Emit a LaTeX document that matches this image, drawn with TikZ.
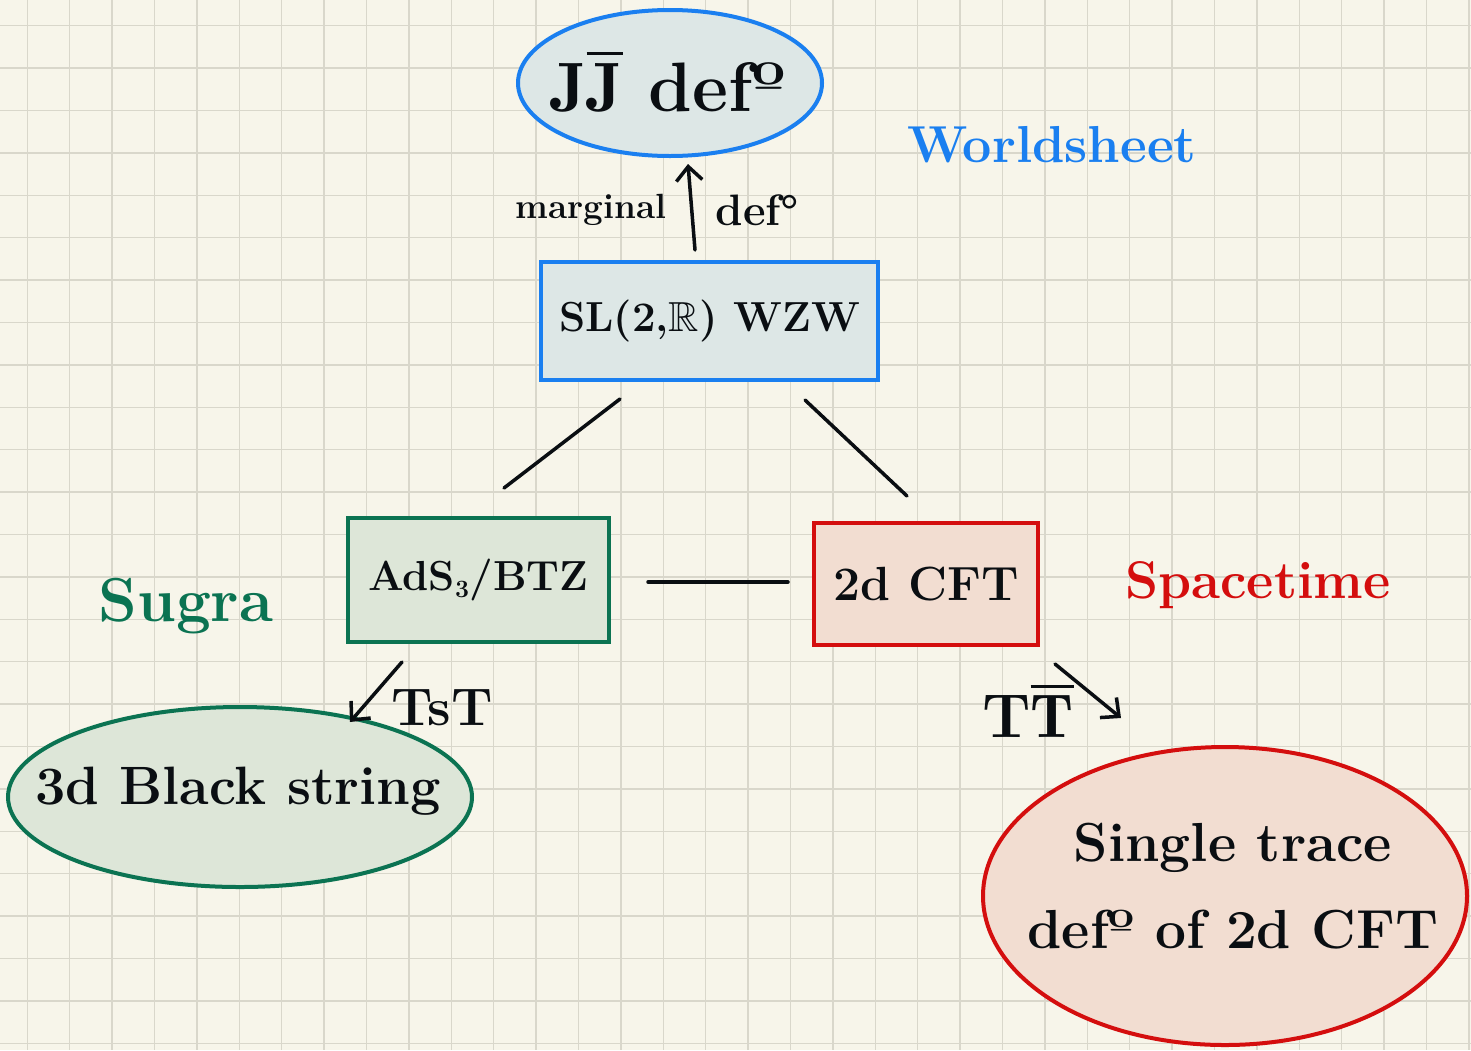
\documentclass[tikz,border=0pt]{standalone}
\usepackage{amssymb}
\usepackage{fontspec}
\usetikzlibrary{shapes.geometric,arrows.meta,calc}

\definecolor{paper}{HTML}{F7F5EA}
\definecolor{gridc}{HTML}{D9D7CB}
\definecolor{wsblue}{HTML}{1A7FF0}
\definecolor{wsfill}{HTML}{DDE7E6}
\definecolor{sgreen}{HTML}{0B7352}
\definecolor{sgfill}{HTML}{DDE6D8}
\definecolor{stred}{HTML}{D40E0E}
\definecolor{stfill}{HTML}{F2DDD1}
\definecolor{ink}{HTML}{0A0E12}

\newcommand\fsz[2]{\fontsize{#1}{#2}\selectfont\bfseries\boldmath}

\tikzset{
  box/.style={rectangle, line width=4pt, inner sep=0pt, text=ink},
  oval/.style={ellipse, line width=4pt, inner sep=0pt},
  inner/.style={text=ink, align=center},
  link/.style={line width=3.5pt, ink, line cap=round},
  deform/.style={line width=3.5pt, ink, line cap=round,
    -{Straight Barb[length=14pt,width=26pt,line width=3.5pt]}},
  gridline/.style={gridc, line width=1.5pt},
}

\begin{document}
\begin{tikzpicture}[x=1pt,y=-1pt]
  % paper and grid
  \fill[paper] (0,0) rectangle (1471,1050);
  \useasboundingbox (0,0) rectangle (1471,1050);
  \foreach \i in {0,...,34} {
    \pgfmathsetmacro\gx{27.3+42.4*\i}
    \draw[gridline] (\gx,0) -- (\gx,1050);
  }
  \foreach \j in {0,...,24} {
    \pgfmathsetmacro\gy{25.7+42.4*\j}
    \draw[gridline] (0,\gy) -- (1471,\gy);
  }

  % nodes
  \node[oval, draw=wsblue, fill=wsfill, minimum width=304, minimum height=146,
    label={[inner, font=\fsz{70}{74}, xshift=-2pt, yshift=2pt]center:$\mathrm{J}\overline{\mathrm{J}}$ defº}]
    (jj) at (670,83) {};
  \node[box, draw=wsblue, fill=wsfill, minimum width=337, minimum height=118,
    font=\fsz{42}{46}]
    (sl) at (709.5,321) {SL(2,$\mathbb{R}$) WZW};
  \node[box, draw=sgreen, fill=sgfill, minimum width=261, minimum height=124,
    font=\fsz{42}{46}]
    (ads) at (478.5,580) {AdS$_3$/BTZ};
  \node[box, draw=stred, fill=stfill, minimum width=224, minimum height=122,
    font=\fsz{48}{52}]
    (cft) at (926,584) {2d CFT};
  \node[oval, draw=sgreen, fill=sgfill, minimum width=464, minimum height=180,
    label={[inner, font=\fsz{54}{58}, xshift=-2pt, yshift=6pt]center:3d Black string}]
    (bs) at (240,797) {};
  \node[oval, draw=stred, fill=stfill, minimum width=484, minimum height=298,
    label={[inner, font=\fsz{55}{87}, xshift=8pt, yshift=10pt]center:Single trace\\ defº of 2d CFT}]
    (st) at (1225,896) {};

  % region labels
  \node[text=wsblue, font=\fsz{52}{56}] (wl) at (1052,145) {Worldsheet};
  \node[text=sgreen, font=\fsz{62}{66}] (sg) at (186,606) {Sugra};
  \node[text=stred, font=\fsz{53}{56}] (sp) at (1258,585) {Spacetime};

  % connectors
  \draw[link] ($(sl.south)+(-89.5,17)$) -- ($(ads.north)+(25.5,-28)$);
  \draw[link] ($(sl.south)+(95.5,18)$) -- ($(cft.north)+(-19,-25)$);
  \draw[link] ($(ads.east)+(37,2)$) -- ($(cft.west)+(-24,-2)$);
  \draw[deform] ($(sl.north)+(-14.5,-10)$) -- ($(jj.south)+(18,6)$);
  \draw[deform] ($(ads.south)+(-76.5,18)$) -- ($(bs.center)+(110,-75)$);
  \draw[deform] ($(cft.south)+(129,17)$) -- ($(st.center)+(-104,-178)$);

  % arrow labels
  \node[text=ink, anchor=east, font=\fsz{35}{38}] (mg) at (670,210) {marginal};
  \node[text=ink, anchor=west, font=\fsz{44}{48}] (df) at (712,210) {def°};
  \node[text=ink, font=\fsz{53}{56}] (tst) at (442,708) {TsT};
  \node[text=ink, font=\fsz{62}{66}] (ttb) at (1028,710) {T$\overline{\mathrm{T}}$};
\end{tikzpicture}
\end{document}
